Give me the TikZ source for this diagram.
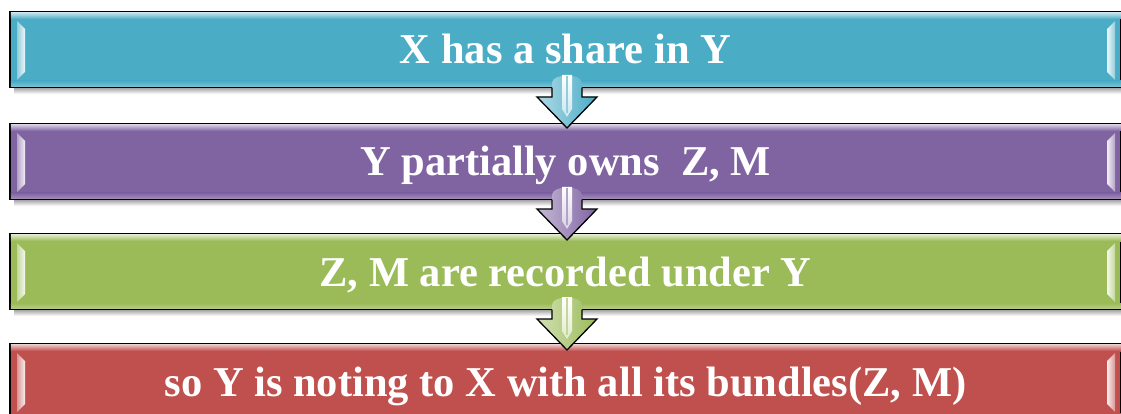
\documentclass[tikz,border=0pt]{standalone}
\usepackage{fontspec}
\setmainfont{Liberation Serif}
\newfontfamily\barfont{Liberation Serif}[BoldFont={Liberation Serif Bold}]
\definecolor{cteal}{HTML}{4BACC6}
\definecolor{cpurple}{HTML}{8064A2}
\definecolor{cgreen}{HTML}{9BBB59}
\definecolor{cred}{HTML}{C0504D}
\tikzset{
 barbox/.style={draw=black, line width=1.3pt, minimum width=1111pt, minimum height=75pt,
   inner sep=0pt, outer sep=0pt, text=white, font=\barfont\bfseries\fontsize{42.5}{50}\selectfont,
   text height=29pt, text depth=0pt},
 arrowline/.style={draw=black, line width=1.3pt, line join=miter},
}
\newcommand\drawbar[4]{%
 \shade[top color=black!40, bottom color=white] (14,{#2+75}) rectangle (1121,{#2+82});
 \node[barbox, fill=#3] (#1) at (565.5,{#2+37.5}) {#4};
 \shade[top color=#3!35!white, bottom color=#3] (10.8,{#2+0.8}) rectangle (1121,{#2+7});
 \shade[top color=#3, bottom color=#3!75!white] (10.8,{#2+69}) rectangle (1121,{#2+74.2});
 \shade[left color=#3!60!white, right color=#3!10!white] (17,{#2+9}) -- (25,{#2+17}) -- (25,{#2+60}) -- (17,{#2+68}) -- cycle;
 \shade[left color=#3!10!white, right color=#3!60!white] (1115,{#2+9}) -- (1107,{#2+17}) -- (1107,{#2+60}) -- (1115,{#2+68}) -- cycle;
}
\newcommand\drawarrow[2]{%
 \begin{scope}[shift={(#1.south)}]
  \shade[left color=#2!45!white, right color=#2] (-13.5,-4) .. controls (-13.5,-14) and (16.5,-14) .. (16.5,-4) -- (16.5,10) -- (31.5,10) -- (1.5,41) -- (-28.5,10) -- (-13.5,10) -- cycle;
  \shade[top color=white, bottom color=#2!30!white] (-3.5,-12) -- (6.5,-12) -- (6.5,22) -- (1.5,30) -- (-3.5,22) -- cycle;
  \draw[#2!60!white, line width=1.2pt] (1.5,-11) -- (1.5,26);
  \draw[arrowline] (-13.5,0.6) -- (-13.5,10) -- (-28.5,10) -- (1.5,41) -- (31.5,10) -- (16.5,10) -- (16.5,0.6);
 \end{scope}
}
\begin{document}
\begin{tikzpicture}[x=1pt,y=-1pt]
\useasboundingbox (0,0) rectangle (1121,414);
\clip (0,0) rectangle (1121,414);
\fill[white] (0,0) rectangle (1121,414);
\drawbar{b1}{12}{cteal}{X has a share in Y}
\drawbar{b2}{124}{cpurple}{Y partially owns~~Z, M}
\drawbar{b3}{234}{cgreen}{Z, M are recorded under Y}
\drawbar{b4}{344}{cred}{so Y is noting to X with all its bundles(Z, M)}
\drawarrow{b1}{cteal}
\drawarrow{b2}{cpurple}
\drawarrow{b3}{cgreen}
\end{tikzpicture}
\end{document}
